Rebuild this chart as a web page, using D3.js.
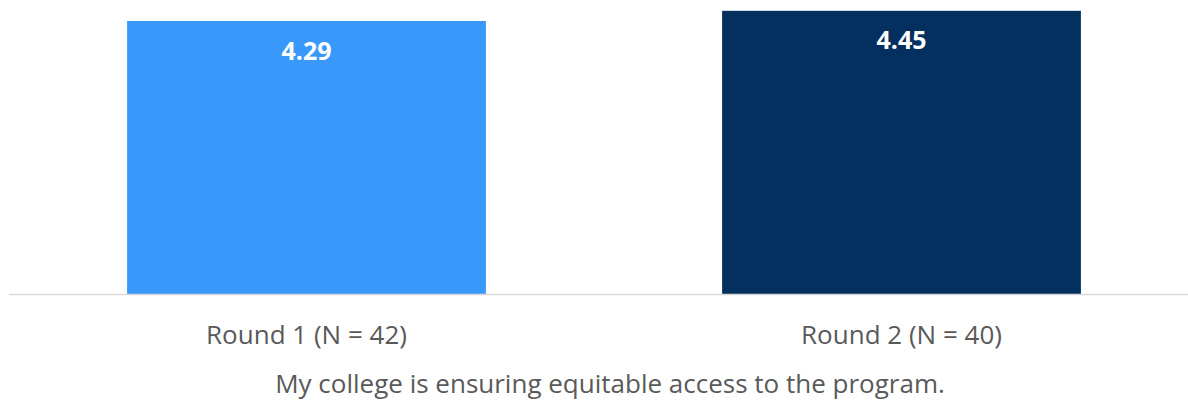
<!DOCTYPE html>
<html><head><meta charset="utf-8">
<script src="https://cdn.jsdelivr.net/npm/d3@7"></script>
<style>body{margin:0;background:#fff}svg{display:block}</style>
</head><body>
<svg id="c" width="1188" height="400"></svg>
<script>
const categories = ["Round 1 (N = 42)", "Round 2 (N = 40)"];
const values = [4.29, 4.45];
const colors = ["#3899FB", "#03305E"];
const title = "My college is ensuring equitable access to the program.";
const yMax = 4.62;

const svg = d3.select("#c");
const font = "'Open Sans', sans-serif";
const x = d3.scaleBand().domain(categories).range([9, 1199]).paddingInner(0.397).paddingOuter(0.1985);
const y = d3.scaleLinear().domain([0, yMax]).range([294, 0]);

svg.selectAll("rect.bar").data(values).join("rect")
  .attr("class","bar")
  .attr("x",(d,i)=>x(categories[i]))
  .attr("width",x.bandwidth())
  .attr("y",d=>y(d))
  .attr("height",d=>y(0)-y(d))
  .attr("fill",(d,i)=>colors[i]);

svg.append("line").attr("x1",9).attr("x2",1188).attr("y1",y(0)+0.5).attr("y2",y(0)+0.5)
  .attr("stroke","#d9d9d9").attr("stroke-width",1.5);

svg.selectAll("text.val").data(values).join("text")
  .attr("class","val")
  .attr("x",(d,i)=>x(categories[i])+x.bandwidth()/2)
  .attr("y",d=>y(d)+38.5)
  .attr("text-anchor","middle")
  .attr("font-family",font).attr("font-weight","bold").attr("font-size",25)
  .attr("fill","#fff")
  .text(d=>d.toFixed(2));

const xAxis = svg.append("g").attr("transform",`translate(0,${y(0)})`)
  .call(d3.axisBottom(x).tickSize(0).tickPadding(0));
xAxis.select(".domain").remove();
xAxis.selectAll("text").attr("dy",0).attr("y",50)
  .attr("font-family",font).attr("font-size",26).attr("fill","#595959");

svg.append("text").attr("x",610).attr("y",393).attr("text-anchor","middle")
  .attr("font-family",font).attr("font-size",26).attr("fill","#595959").text(title);
</script>
</body></html>
